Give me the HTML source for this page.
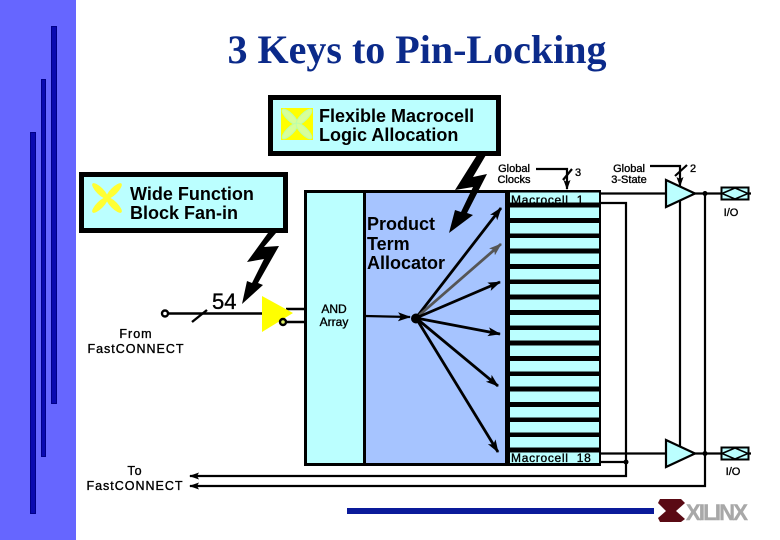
<!DOCTYPE html>
<html><head><meta charset="utf-8"><style>
html,body{margin:0;padding:0;background:#fff}
svg{display:block}
text{font-family:"Liberation Sans",sans-serif;font-weight:bold;fill:#000}
.s{font-weight:normal;stroke:#000;stroke-width:.35px}
</style></head><body>
<svg width="780" height="540" viewBox="0 0 780 540" xmlns="http://www.w3.org/2000/svg">
<defs>
<marker id="a" markerWidth="13" markerHeight="10" refX="12" refY="4.5" orient="auto" markerUnits="userSpaceOnUse"><path d="M0 0L13 4.5L0 9L3 4.5Z" fill="#000"/></marker>
<marker id="g" markerWidth="13" markerHeight="10" refX="12" refY="4.5" orient="auto" markerUnits="userSpaceOnUse"><path d="M0 0L13 4.5L0 9L3 4.5Z" fill="#555"/></marker>
<marker id="b" markerWidth="10" markerHeight="8" refX="9" refY="3.5" orient="auto" markerUnits="userSpaceOnUse"><path d="M0 0L10 3.5L0 7L2 3.5Z" fill="#000"/></marker>
</defs>
<rect x="0" y="0" width="76" height="540" fill="#6666ff"/>
<g fill="#0a0ab0" stroke="#000088" stroke-width="1">
<rect x="51.5" y="26.5" width="5" height="377"/>
<rect x="41.5" y="79.5" width="4" height="377"/>
<rect x="30.5" y="132.5" width="5" height="381"/>
</g>
<text x="417" y="63" text-anchor="middle" style="font-family:'Liberation Serif',serif;font-size:40px;fill:#0b2a8a">3 Keys to Pin-Locking</text>

<rect x="270.5" y="97.5" width="228" height="56" fill="#bbffff" stroke="#000" stroke-width="5"/>
<rect x="281" y="108" width="32" height="32" fill="#ffff00"/>
<g fill="#d8ff99" stroke="#bbffaa" stroke-width="1">
<ellipse cx="290" cy="117" rx="10.5" ry="3.5" transform="rotate(45 290 117)"/>
<ellipse cx="304" cy="117" rx="10.5" ry="3.5" transform="rotate(-45 304 117)"/>
<ellipse cx="290" cy="131" rx="10.5" ry="3.5" transform="rotate(-45 290 131)"/>
<ellipse cx="304" cy="131" rx="10.5" ry="3.5" transform="rotate(45 304 131)"/>
</g>
<text x="319" y="122" style="font-size:18px">Flexible Macrocell</text>
<text x="319" y="141" style="font-size:18px">Logic Allocation</text>

<rect x="81.5" y="174.5" width="204" height="56" fill="#bbffff" stroke="#000" stroke-width="5"/>
<g fill="#ffff33">
<ellipse cx="100" cy="191" rx="10.5" ry="3.5" transform="rotate(45 100 191)"/>
<ellipse cx="114" cy="191" rx="10.5" ry="3.5" transform="rotate(-45 114 191)"/>
<ellipse cx="100" cy="205" rx="10.5" ry="3.5" transform="rotate(-45 100 205)"/>
<ellipse cx="114" cy="205" rx="10.5" ry="3.5" transform="rotate(45 114 205)"/>
</g>
<text x="130" y="200" style="font-size:18px">Wide Function</text>
<text x="130" y="219" style="font-size:18px">Block Fan-in</text>

<rect x="305.5" y="191.5" width="59" height="273" fill="#bbffff" stroke="#000" stroke-width="3"/>
<rect x="364.5" y="191.5" width="142" height="273" fill="#a6c4ff" stroke="#000" stroke-width="3"/>
<rect x="506" y="190" width="95" height="276" fill="#000"/>
<g fill="#bbffff">
<rect x="510" y="192.5" width="89" height="10"/>
<rect x="510" y="207.5" width="89" height="10.5"/>
<rect x="510" y="223" width="89" height="10.5"/>
<rect x="510" y="238" width="89" height="10.5"/>
<rect x="510" y="253.5" width="89" height="10.5"/>
<rect x="510" y="269" width="89" height="10.5"/>
<rect x="510" y="284" width="89" height="10.5"/>
<rect x="510" y="299.5" width="89" height="10.5"/>
<rect x="510" y="315" width="89" height="10.5"/>
<rect x="510" y="330" width="89" height="10.5"/>
<rect x="510" y="345.5" width="89" height="10.5"/>
<rect x="510" y="361" width="89" height="10.5"/>
<rect x="510" y="376" width="89" height="10.5"/>
<rect x="510" y="391.5" width="89" height="10.5"/>
<rect x="510" y="407" width="89" height="10.5"/>
<rect x="510" y="422" width="89" height="10.5"/>
<rect x="510" y="437" width="89" height="10.5"/>
<rect x="510" y="452.5" width="89" height="10.5"/>
</g>
<text class="s" x="511" y="204" style="font-size:12px;letter-spacing:.7px" xml:space="preserve">Macrocell  1</text>
<text class="s" x="511" y="462" style="font-size:12px;letter-spacing:.7px" xml:space="preserve">Macrocell  18</text>

<text x="367" y="230" style="font-size:18px">Product</text>
<text x="367" y="250" style="font-size:18px">Term</text>
<text x="367" y="269" style="font-size:18px">Allocator</text>
<text class="s" x="334" y="313" text-anchor="middle" style="font-size:12px">AND</text>
<text class="s" x="334" y="326" text-anchor="middle" style="font-size:12px">Array</text>

<g stroke="#000" stroke-width="2.8" fill="none">
<line x1="416" y1="318" x2="501" y2="208" marker-end="url(#a)"/>
<line x1="416" y1="318" x2="501" y2="244" stroke="#555" marker-end="url(#g)"/>
<line x1="416" y1="318" x2="500" y2="282" marker-end="url(#a)"/>
<line x1="416" y1="318" x2="500" y2="334" marker-end="url(#a)"/>
<line x1="416" y1="318" x2="498" y2="386" marker-end="url(#a)"/>
<line x1="416" y1="318" x2="498" y2="452" marker-end="url(#a)"/>
<line x1="365" y1="316" x2="410" y2="317" stroke-width="2.2" marker-end="url(#a)"/>
</g>
<circle cx="416" cy="318.5" r="5" fill="#000"/>

<polygon points="477,155 486,155 473,177 487,174 467,213 473,215 449,233 455,210 461,212 473,187 455,190" fill="#000"/>
<polygon points="268,233 276,233 264,247 279,246 258,283 263,285 242,304 247,281 252,283 264,259 247,262" fill="#000"/>

<g stroke="#000" stroke-width="2.4" fill="none">
<line x1="168" y1="313.5" x2="264" y2="313.5"/>
<line x1="192" y1="322" x2="207" y2="310"/>
<line x1="286" y1="309" x2="306" y2="309"/>
<line x1="286" y1="322" x2="306" y2="322"/>
</g>
<circle cx="165" cy="313.5" r="3" fill="#fff" stroke="#000" stroke-width="2.4"/>
<polygon points="262,296 293,313 262,332" fill="#ffff00"/>
<circle cx="283" cy="322" r="3" fill="#ddee66" stroke="#000" stroke-width="2.4"/>
<text class="s" x="212" y="309" style="font-size:22px">54</text>

<g style="font-size:12.5px;letter-spacing:1px">
<text class="s" x="136" y="338" text-anchor="middle">From</text>
<text class="s" x="136" y="353" text-anchor="middle">FastCONNECT</text>
<text class="s" x="135" y="475" text-anchor="middle">To</text>
<text class="s" x="135" y="490" text-anchor="middle">FastCONNECT</text>
</g>

<g style="font-size:11px">
<text class="s" x="514" y="172" text-anchor="middle">Global</text>
<text class="s" x="514" y="183" text-anchor="middle">Clocks</text>
<text class="s" x="629" y="172" text-anchor="middle">Global</text>
<text class="s" x="629" y="183" text-anchor="middle">3-State</text>
<text class="s" x="575" y="176">3</text>
<text class="s" x="690" y="172">2</text>
<text class="s" x="731" y="216" text-anchor="middle">I/O</text>
<text class="s" x="733" y="475" text-anchor="middle">I/O</text>
</g>

<g stroke="#000" stroke-width="2.2" fill="none">
<polyline points="536,169 567,169 567,189" marker-end="url(#b)"/>
<line x1="563" y1="180" x2="572" y2="169"/>
<polyline points="650,166 680,166 680,186" marker-end="url(#b)"/>
<line x1="675" y1="176" x2="687" y2="165"/>
<line x1="600" y1="193.5" x2="751" y2="193.5"/>
<line x1="600" y1="453.5" x2="751" y2="453.5"/>
<polyline points="600,203 626,203 626,476 190,476" marker-end="url(#b)"/>
<line x1="600" y1="462" x2="626" y2="462"/>
<polyline points="705,193 705,486 190,486" marker-end="url(#b)"/>
<line x1="680" y1="200" x2="680" y2="447"/>
</g>
<g fill="#bbffff" stroke="#000" stroke-width="2.2">
<polygon points="666,180 695,193.5 666,207"/>
<polygon points="666,440 695,453.5 666,467"/>
</g>
<circle cx="705" cy="193.5" r="2.5" fill="#000"/>
<circle cx="705" cy="453.5" r="2.5" fill="#000"/>
<circle cx="626" cy="462" r="2.5" fill="#000"/>

<g fill="#bbffff" stroke="#000" stroke-width="2">
<rect x="721.5" y="187.5" width="27" height="12"/>
<rect x="721.5" y="447.5" width="27" height="12"/>
</g>
<g fill="none" stroke="#000" stroke-width="1.5">
<polygon points="722,193.5 735,188 748,193.5 735,199"/>
<polygon points="722,453.5 735,448 748,453.5 735,459"/>
</g>

<rect x="347" y="508" width="307" height="6" fill="#0a1a9a"/>
<polygon points="660,499 681,499 685,503 676,511 685,519 681,522 660,522 658,518 666,511 658,503" fill="#5a0a14"/>
<text x="686" y="520" style="font-size:22px;fill:#a8a8a8;letter-spacing:-1.8px;stroke:#a8a8a8;stroke-width:.4">XILINX</text>
</svg>
</body></html>
